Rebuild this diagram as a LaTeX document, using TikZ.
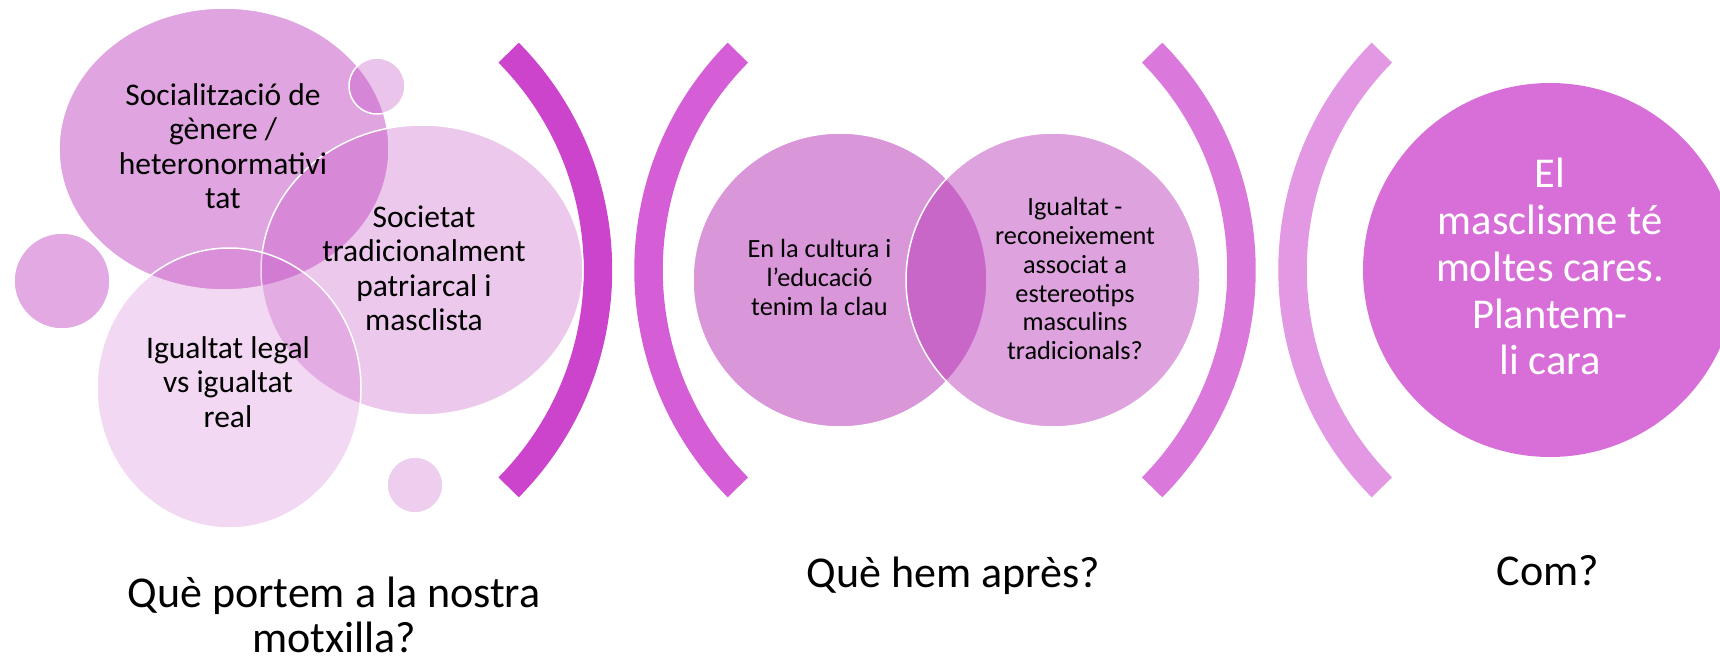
\documentclass[tikz,border=0pt]{standalone}
\usepackage{fontspec}
\setmainfont{Carlito}
\definecolor{lbase}{RGB}{193,73,193}
\definecolor{mbase}{RGB}{180,45,180}
\definecolor{brA}{RGB}{204,68,204}
\definecolor{brB}{RGB}{213,93,213}
\definecolor{brC}{RGB}{219,120,219}
\definecolor{brD}{RGB}{227,152,227}
\definecolor{bigF}{RGB}{216,110,216}
\newcommand\szBub{\fontsize{31.5}{34.5}\selectfont}
\newcommand\szMid{\fontsize{26.3}{28.8}\selectfont}
\newcommand\szBig{\fontsize{42.5}{46.8}\selectfont}
\newcommand\szLab{\fontsize{44}{43}\selectfont}
\begin{document}
\begin{tikzpicture}[x=1pt,y=-1pt,
  bub/.style={draw=white, line width=1.5pt},
  brk/.style={line width=28.5pt, line cap=butt},
  txt/.style={align=center, inner sep=0pt, text=black},
  lab/.style={inner sep=0pt, anchor=base, text=black, font=\szLab}]
\useasboundingbox (0,0) rectangle (1720,663);
% brackets
\draw[brk, draw=brA] (289,270) ++(-44.7:309) arc[start angle=-44.7, end angle=44.7, radius=309];
\draw[brk, draw=brB] (957.5,270) ++(135.3:309) arc[start angle=135.3, end angle=224.7, radius=309];
\draw[brk, draw=brC] (932.5,270) ++(-44.7:309) arc[start angle=-44.7, end angle=44.7, radius=309];
\draw[brk, draw=brD] (1601.5,270) ++(135.3:309) arc[start angle=135.3, end angle=224.7, radius=309];
% left group
\draw[bub, fill=lbase, fill opacity=0.5] (224,149) ellipse [x radius=165, y radius=141];
\draw[bub, fill=lbase, fill opacity=0.32] (377,86) circle [radius=28];
\draw[bub, fill=lbase, fill opacity=0.47] (62,281) circle [radius=48];
\draw[bub, fill=lbase, fill opacity=0.27] (415,485) circle [radius=28];
\draw[bub, fill=lbase, fill opacity=0.3] (422,270) ellipse [x radius=161, y radius=145];
\draw[bub, fill=lbase, fill opacity=0.21] (229,388) ellipse [x radius=132, y radius=140];
% middle group
\draw[bub, fill=mbase, fill opacity=0.5] (840,280) circle [radius=147];
\draw[bub, fill=mbase, fill opacity=0.44] (1053,280) circle [radius=147];
% right circle
\fill[bigF] (1550,270) circle [radius=187];
% texts
\node[txt, font=\szBub] (tA) at (223,150) {\strut Socialització de\\gènere /\\heteronormativi\\tat\strut};
\node[txt, font=\szBub] (tB) at (424,272) {\strut Societat\\tradicionalment\\patriarcal i\\masclista\strut};
\node[txt, font=\szBub] (tC) at (228,386) {\strut Igualtat legal\\vs igualtat\\real\strut};
\node[txt, font=\szMid] (tD) at (819.5,281) {\strut En la cultura i\\l’educació\\tenim la clau\strut};
\node[txt, font=\szMid] (tE) at (1075,282) {\strut Igualtat -\\reconeixement\\associat a\\estereotips\\masculins\\tradicionals?\strut};
\node[txt, font=\szBig, text=white] (tF) at (1550,272) {\strut El\\masclisme té\\moltes cares.\\Plantem-\\li cara\strut};
\node[txt, font=\szLab] (l1) at (334,621) {\strut Què portem a la nostra\\motxilla?\strut};
\node[lab] (l2) at (953,587) {Què hem après?};
\node[lab] (l3) at (1548,585) {Com?};
\end{tikzpicture}
\end{document}
